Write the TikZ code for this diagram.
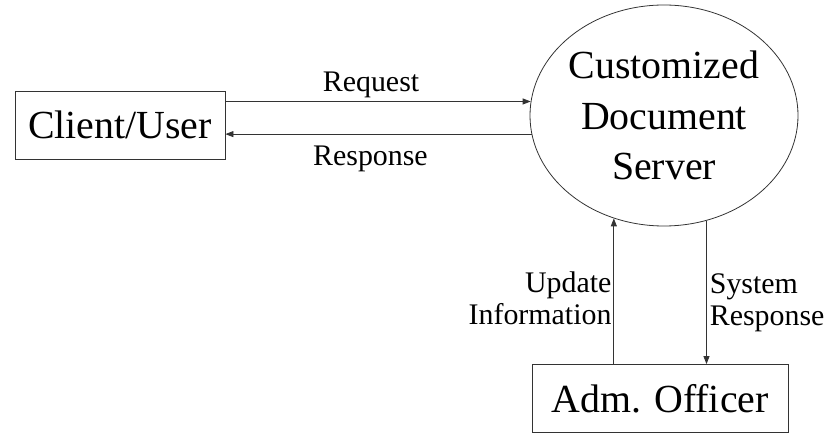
\documentclass[tikz,border=0pt]{standalone}
\usepackage{fontspec}
\setmainfont{Liberation Serif}
\usetikzlibrary{arrows.meta,shapes.geometric}

\begin{document}
\begin{tikzpicture}[x=1bp,y=-1bp,
  every node/.style={font=\fontsize{30}{32}\selectfont},
  box/.style={draw=black!80,line width=.8bp,minimum width=#1,minimum height=68bp,inner sep=0pt,font=\fontsize{40}{50}\selectfont},
  flow/.style={draw=black!80,line width=.8bp,-{Triangle[length=8bp,width=6bp]}}]
\useasboundingbox (0,0) rectangle (840,435);
\node[box=210bp] (client) at (120,125) {Client/User};
\node[draw=black!80,line width=.8bp,ellipse,minimum width=268bp,minimum height=221bp,
  inner xsep=-10bp,inner ysep=0pt,align=center,font=\fontsize{40}{51}\selectfont]
  (server) at (664,115.5) {Customized\\Document\\Server};
\node[box=256bp] (adm) at (660,398.5) {Adm. Officer};
%-------------
\draw[flow] (server.174 -| client.east) -- (server.174)
  node[midway,above,xshift=-7bp] {Request};
\draw[flow] (server.188) -- (server.188 -| client.east)
  node[midway,below,xshift=-8bp,yshift=-8bp] {Response};
\draw[flow] (server.244 |- adm.north) -- (server.244)
  node[pos=.45,left,align=right,inner sep=2bp] {Update\\Information};
\draw[flow] (server.292) -- (server.292 |- adm.north)
  node[pos=.57,right,align=left,inner sep=3bp] {System\\Response};
\end{tikzpicture}
\end{document}
